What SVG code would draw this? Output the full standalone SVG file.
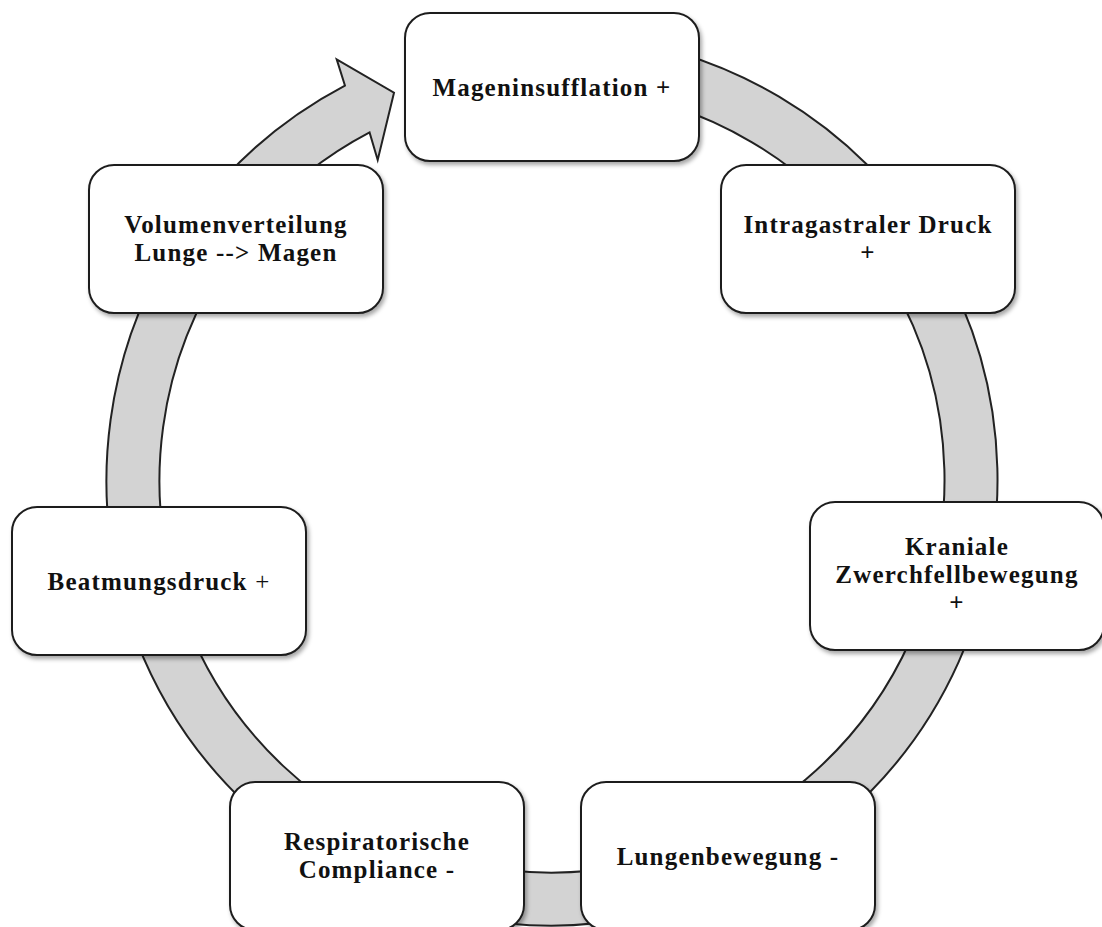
<svg xmlns="http://www.w3.org/2000/svg" width="1102" height="927" viewBox="0 0 1102 927">
  <defs>
    <filter id="shadow" x="-10%" y="-10%" width="125%" height="130%">
      <feDropShadow dx="2" dy="3" stdDeviation="2.2" flood-color="#000" flood-opacity="0.35"/>
    </filter>
  </defs>
  <style>
    .box { fill: #ffffff; stroke: #1e1e1e; stroke-width: 2; filter: url(#shadow); }
    .ring { fill: #d3d3d3; stroke: #222222; stroke-width: 2; stroke-linejoin: miter; }
    .lbl { font-family: "Liberation Serif", "Times New Roman", serif; font-weight: bold; font-size: 25px; letter-spacing: 1.2px; fill: #111111; text-anchor: middle; }
    .thin { font-weight: normal; }
  </style>
  <rect width="1102" height="927" fill="#ffffff"/>

  <g id="connectors">
    <path class="ring" d="M 590.83 36.19 A 445.5 445.5 0 1 1 344.93 85.55 L 336.7 59.3 L 394 92.7 L 377.7 160 L 369.57 132.48 A 392.5 392.5 0 1 0 586.21 88.99 Z"/>
  </g>

  <g id="node-mageninsufflation">
    <rect class="box" x="405" y="13" width="294" height="148" rx="25" ry="25"/>
    <text class="lbl" x="552" y="96">Mageninsufflation +</text>
  </g>

  <g id="node-intragastraler-druck">
    <rect class="box" x="721" y="165" width="294" height="148" rx="25" ry="25"/>
    <text class="lbl" x="868" y="233">Intragastraler Druck</text>
    <text class="lbl" x="868" y="261">+</text>
  </g>

  <g id="node-kraniale-zwerchfellbewegung">
    <rect class="box" x="810" y="502" width="294" height="148" rx="25" ry="25"/>
    <text class="lbl" x="957" y="555">Kraniale</text>
    <text class="lbl" x="957" y="583">Zwerchfellbewegung</text>
    <text class="lbl" x="957" y="611">+</text>
  </g>

  <g id="node-lungenbewegung">
    <rect class="box" x="581" y="782" width="294" height="148" rx="25" ry="25"/>
    <text class="lbl" x="728" y="865">Lungenbewegung -</text>
  </g>

  <g id="node-respiratorische-compliance">
    <rect class="box" x="230" y="782" width="294" height="148" rx="25" ry="25"/>
    <text class="lbl" x="377" y="850">Respiratorische</text>
    <text class="lbl" x="377" y="878">Compliance -</text>
  </g>

  <g id="node-beatmungsdruck">
    <rect class="box" x="12" y="507" width="294" height="148" rx="25" ry="25"/>
    <text class="lbl" x="159" y="590">Beatmungsdruck <tspan class="thin">+</tspan></text>
  </g>

  <g id="node-volumenverteilung">
    <rect class="box" x="89" y="165" width="294" height="148" rx="25" ry="25"/>
    <text class="lbl" x="236" y="233">Volumenverteilung</text>
    <text class="lbl" x="236" y="261">Lunge --&gt; Magen</text>
  </g>
</svg>
